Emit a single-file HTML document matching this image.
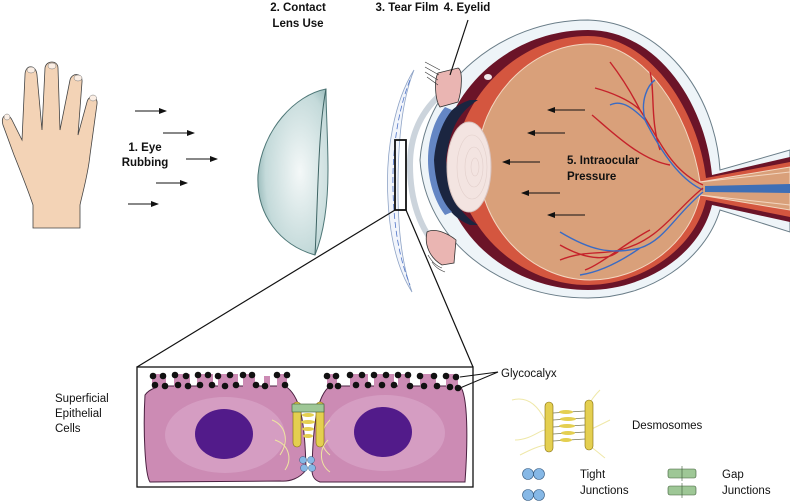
<!DOCTYPE html>
<html><head><meta charset="utf-8"><style>
html,body{margin:0;padding:0;background:#fff;width:790px;height:503px;overflow:hidden}
svg{display:block}
text{font-family:"Liberation Sans",sans-serif;fill:#111}
.b{font-weight:bold;font-size:11.5px}
.n{font-size:11.5px}
</style></head><body>
<svg width="790" height="503" viewBox="0 0 790 503" xmlns="http://www.w3.org/2000/svg">
<defs>
<marker id="ah" markerWidth="8" markerHeight="6" refX="7" refY="3" orient="auto"><path d="M0,0L8,3L0,6z" fill="#111"/></marker>
<radialGradient id="lens" cx="0.6" cy="0.5" r="0.7"><stop offset="0" stop-color="#f4f8f8"/><stop offset="0.7" stop-color="#c4dada"/><stop offset="1" stop-color="#7fa8a8"/></radialGradient>
</defs>

<!-- hand -->
<g stroke="#444" stroke-width="0.8" fill="#f3d3b6">
<path d="M33,228 L33,205 C28,190 22,175 14,155 L3,125 C0,115 8,112 12,120 L22,140 L25,75 C25,64 36,64 37,75 L42,130 L45,68 C46,60 58,60 58,68 L60,130 L70,80 C72,72 83,73 82,82 L78,135 L87,102 C89,94 98,96 97,104 L90,155 C88,175 82,195 80,205 L80,228 Z"/>
</g>
<g fill="#fbeee4" stroke="#777" stroke-width="0.5">
<ellipse cx="31" cy="70" rx="4" ry="3"/><ellipse cx="52" cy="66" rx="4" ry="3"/><ellipse cx="78" cy="78" rx="4" ry="3"/><ellipse cx="93" cy="98" rx="3.5" ry="3"/><ellipse cx="7" cy="117" rx="3" ry="3"/>
</g>

<g stroke="#111" stroke-width="1" marker-end="url(#ah)">
<line x1="135" y1="111" x2="166" y2="111"/><line x1="163" y1="133" x2="194" y2="133"/><line x1="186" y1="159" x2="217" y2="159"/><line x1="156" y1="183" x2="187" y2="183"/><line x1="128" y1="204" x2="158" y2="204"/>
</g>
<text class="b" x="145" y="151" text-anchor="middle">1. Eye</text>
<text class="b" x="145" y="166" text-anchor="middle">Rubbing</text>

<!-- contact lens -->
<path d="M326,89 C295,95 262,130 258,175 C256,215 280,245 315,255 C325,230 328,200 328,170 C328,140 326,110 326,89 Z" fill="url(#lens)" stroke="#4e7777" stroke-width="1"/>
<path d="M326,89 C318,130 318,200 315,255" fill="none" stroke="#3d6363" stroke-width="1"/>

<text class="b" x="298" y="11" text-anchor="middle">2. Contact</text>
<text class="b" x="298" y="27" text-anchor="middle">Lens Use</text>
<text class="b" x="407" y="11" text-anchor="middle">3. Tear Film</text>
<text class="b" x="467" y="11" text-anchor="middle">4. Eyelid</text>

<!-- eye -->
<path d="M790,150 L720,170 C715,90 660,22 588,20 C500,20 425,85 420,160 C425,240 500,298 588,298 C650,298 705,260 720,210 L790,232 Z" fill="#eef4f8" stroke="#6a7d88" stroke-width="1"/>
<path d="M790,157 L712,175 C705,100 655,30 588,30 C510,30 445,90 440,160 C445,235 510,290 588,290 C645,290 700,255 712,205 L790,222 Z" fill="#6b1428"/>
<path d="M790,162 L706,178 C698,110 650,36 588,36 C520,36 460,95 455,160 C460,230 520,285 588,285 C640,285 695,250 706,200 L790,217 Z" fill="#d4563f"/>
<path d="M790,167 L700,182 C690,115 645,44 590,44 C530,44 478,100 478,160 C478,225 530,280 590,280 C640,280 690,245 700,195 L790,210 Z" fill="#d9a07a" stroke="#f3d6c0" stroke-width="1"/>
<path d="M700,182 L790,172 M700,195 L790,205" stroke="#f3d6c0" stroke-width="1" fill="none"/>
<path d="M705,186 L790,184 L790,193 L705,192 Z" fill="#3e6fb6"/>
<g fill="none" stroke-width="1.4">
<path d="M703,185 C670,170 660,140 640,110 C630,90 620,75 610,62 M640,110 C630,100 610,92 595,88 M660,150 C650,120 655,90 650,72 M670,165 C640,160 610,130 592,115" stroke="#c5222a"/>
<path d="M703,190 C680,180 660,150 645,120 C630,105 620,100 610,105 M645,120 C640,100 648,85 655,80" stroke="#3a6bc4"/>
<path d="M703,188 C675,210 660,240 620,250 C600,255 585,250 560,260 M650,230 C630,240 600,265 585,270 M620,250 C610,260 590,262 560,245" stroke="#c5222a"/>
<path d="M703,192 C675,215 665,240 640,248 C610,255 590,250 560,232 M640,248 C620,262 600,272 580,275" stroke="#3a6bc4"/>
</g>
<ellipse cx="488" cy="77" rx="4" ry="3" fill="#fff" opacity="0.9"/>
<path d="M478,100 C462,110 450,125 446,160 C450,200 462,215 478,225 L470,225 C445,215 435,190 432,160 C435,130 445,108 470,100 Z" fill="#1b2540"/>
<path d="M452,110 C440,125 435,145 434,160 C435,180 440,200 452,212 L445,215 C434,200 428,180 428,160 C428,140 434,120 445,107 Z" fill="#6486c4"/>
<ellipse cx="469" cy="167" rx="22" ry="45" fill="#f3e4e1" stroke="#d9c3bf" stroke-width="1"/>
<g fill="none" stroke="#e2cfcb" stroke-width="0.6"><ellipse cx="472" cy="167" rx="15" ry="32"/><ellipse cx="474" cy="167" rx="9" ry="20"/><ellipse cx="475" cy="167" rx="4" ry="9"/></g>
<path d="M440,95 C418,115 410,140 410,165 C410,200 420,230 440,250" fill="none" stroke="#aab8c5" stroke-width="6" opacity="0.6"/>
<path d="M438,73 L458,68 C463,70 462,90 458,102 L440,107 C435,100 434,80 438,73 Z" fill="#eab5b2" stroke="#333" stroke-width="0.8"/>
<path d="M427,232 C436,227 450,235 456,240 L454,263 L442,265 C430,258 424,245 427,232 Z" fill="#eab5b2" stroke="#333" stroke-width="0.8"/>
<g stroke="#333" stroke-width="0.6" fill="none"><path d="M425,62 L440,70 M425,67 L439,75 M425,72 L438,80 M427,77 L438,85"/><path d="M432,262 C436,268 440,270 445,272 M428,255 C432,262 436,266 442,268"/></g>
<path d="M414,70 C395,100 385,150 388,200 C390,240 398,270 412,292 C402,265 398,230 398,190 C398,140 402,100 414,70 Z" fill="#f2f5fb" stroke="#8ea3c6" stroke-width="0.8"/>
<path d="M410,80 C398,110 392,150 393,190 C394,230 400,260 410,285" fill="none" stroke="#4f74c8" stroke-width="0.8" stroke-dasharray="6,3"/>
<g stroke="#111" stroke-width="1" marker-end="url(#ah)">
<line x1="585" y1="110" x2="548" y2="110"/><line x1="565" y1="133" x2="528" y2="133"/><line x1="540" y1="162" x2="503" y2="162"/><line x1="560" y1="193" x2="522" y2="193"/><line x1="585" y1="215" x2="548" y2="215"/>
</g>
<text class="b" x="567" y="164">5. Intraocular</text>
<text class="b" x="567" y="180">Pressure</text>

<line x1="468" y1="20" x2="450" y2="75" stroke="#111" stroke-width="1.2"/>
<rect x="395" y="140" width="11" height="70" fill="none" stroke="#111" stroke-width="1.8"/>
<line x1="395" y1="210" x2="137" y2="367" stroke="#111" stroke-width="1.2"/>
<line x1="406" y1="210" x2="473" y2="367" stroke="#111" stroke-width="1.2"/>

<!-- box -->
<rect x="137" y="367" width="336" height="120" fill="#fff" stroke="#111" stroke-width="1.3"/>
<path d="M145,395 C150,388 160,386 165,386 L285,386 C300,395 305,420 306,470 C300,478 290,482 280,481 L150,482 C145,475 143,430 145,395 Z" fill="#cc8bb4" stroke="#4a2040" stroke-width="1"/>
<path d="M312,470 C313,420 318,395 330,386 L460,386 C468,395 468,440 465,482 L320,482 C314,480 312,476 312,470 Z" fill="#cc8bb4" stroke="#4a2040" stroke-width="1"/>
<g fill="#d9a5c8" opacity="0.7"><ellipse cx="225" cy="435" rx="60" ry="38"/><ellipse cx="385" cy="433" rx="60" ry="38"/></g>
<g fill="#cc8bb4">
<rect x="152" y="374" width="14" height="14"/><rect x="174" y="374" width="16" height="14"/><rect x="197" y="374" width="16" height="14"/><rect x="218" y="374" width="20" height="14"/><rect x="243" y="374" width="12" height="14"/><rect x="264" y="376" width="6" height="12"/><rect x="277" y="374" width="10" height="14"/>
<rect x="327" y="374" width="10" height="14"/><rect x="350" y="374" width="18" height="14"/><rect x="374" y="374" width="20" height="14"/><rect x="398" y="374" width="12" height="14"/><rect x="420" y="374" width="16" height="14"/><rect x="446" y="374" width="12" height="14"/>
</g>
<ellipse cx="224" cy="434" rx="29" ry="25" fill="#521b8a"/>
<ellipse cx="383" cy="432" rx="29" ry="25" fill="#521b8a"/>
<g fill="#111">
<circle cx="153" cy="376" r="3.3"/><circle cx="155" cy="385" r="3.3"/><circle cx="163" cy="376" r="3.3"/><circle cx="165" cy="386" r="3.3"/>
<circle cx="175" cy="375" r="3.3"/><circle cx="178" cy="385" r="3.3"/><circle cx="186" cy="376" r="3.3"/><circle cx="188" cy="386" r="3.3"/>
<circle cx="198" cy="375" r="3.3"/><circle cx="200" cy="385" r="3.3"/><circle cx="208" cy="375" r="3.3"/><circle cx="212" cy="385" r="3.3"/>
<circle cx="218" cy="376" r="3.3"/><circle cx="225" cy="386" r="3.3"/><circle cx="230" cy="375" r="3.3"/><circle cx="236" cy="385" r="3.3"/>
<circle cx="243" cy="375" r="3.3"/><circle cx="252" cy="375" r="3.3"/><circle cx="256" cy="385" r="3.3"/><circle cx="265" cy="386" r="3.3"/>
<circle cx="277" cy="375" r="3.3"/><circle cx="287" cy="375" r="3.3"/><circle cx="285" cy="385" r="3.3"/>
<circle cx="327" cy="376" r="3.3"/><circle cx="336" cy="376" r="3.3"/><circle cx="330" cy="386" r="3.3"/><circle cx="338" cy="386" r="3.3"/>
<circle cx="350" cy="375" r="3.3"/><circle cx="356" cy="385" r="3.3"/><circle cx="362" cy="375" r="3.3"/><circle cx="368" cy="385" r="3.3"/>
<circle cx="374" cy="375" r="3.3"/><circle cx="382" cy="385" r="3.3"/><circle cx="386" cy="375" r="3.3"/><circle cx="394" cy="385" r="3.3"/>
<circle cx="398" cy="375" r="3.3"/><circle cx="408" cy="375" r="3.3"/><circle cx="410" cy="386" r="3.3"/><circle cx="420" cy="376" r="3.3"/>
<circle cx="424" cy="386" r="3.3"/><circle cx="434" cy="376" r="3.3"/><circle cx="437" cy="386" r="3.3"/><circle cx="446" cy="376" r="3.3"/>
<circle cx="450" cy="387" r="3.3"/><circle cx="456" cy="377" r="3.3"/><circle cx="458" cy="388" r="3.3"/>
</g>
<g fill="none" stroke="#efe6a0" stroke-width="1"><path d="M272,420 C285,425 290,440 280,455 M275,440 C290,445 292,460 285,470 M330,420 C320,430 318,445 330,455 M328,440 C318,450 320,465 330,472"/></g>
<rect x="293" y="402" width="8" height="45" rx="4" fill="#e4cf50" stroke="#806a10" stroke-width="0.6"/>
<rect x="316" y="402" width="8" height="45" rx="4" fill="#e4cf50" stroke="#806a10" stroke-width="0.6"/>
<g fill="#e4cf50"><ellipse cx="308" cy="415" rx="6" ry="2"/><ellipse cx="308" cy="422" rx="7" ry="2"/><ellipse cx="308" cy="429" rx="6" ry="2"/><ellipse cx="308" cy="436" rx="5" ry="2"/></g>
<rect x="292" y="404" width="32" height="8" fill="#9ec796" stroke="#3d5b37" stroke-width="0.6"/>
<g fill="#86b8e6" stroke="#34597f" stroke-width="0.5"><circle cx="303" cy="460" r="3.5"/><circle cx="311" cy="460" r="3.5"/><circle cx="304" cy="468" r="3.5"/><circle cx="312" cy="468" r="3.5"/></g>

<line x1="460" y1="377" x2="498" y2="372" stroke="#111" stroke-width="1"/>
<line x1="460" y1="388" x2="498" y2="372" stroke="#111" stroke-width="1"/>
<text class="n" x="501" y="377">Glycocalyx</text>

<text class="n" x="55" y="402">Superficial</text>
<text class="n" x="55" y="417">Epithelial</text>
<text class="n" x="55" y="432">Cells</text>

<g fill="none" stroke="#efe8a8" stroke-width="1"><path d="M512,400 C530,395 540,410 545,420 M515,440 C530,440 540,430 545,430 M520,455 C530,450 540,445 548,445 M600,390 C590,400 585,410 585,420 M610,420 C600,425 590,430 585,432 M605,458 C595,450 590,445 585,445"/></g>
<rect x="545" y="402" width="8" height="50" rx="4" fill="#e4cf50" stroke="#806a10" stroke-width="0.6"/>
<rect x="585" y="400" width="8" height="50" rx="4" fill="#e4cf50" stroke="#806a10" stroke-width="0.6"/>
<g stroke="#7a7a58" stroke-width="0.8"><line x1="553" y1="413" x2="585" y2="411"/><line x1="553" y1="420" x2="585" y2="418"/><line x1="553" y1="427" x2="585" y2="425"/><line x1="553" y1="434" x2="585" y2="432"/><line x1="553" y1="441" x2="585" y2="439"/></g>
<g fill="#e4cf50"><ellipse cx="566" cy="412" rx="7" ry="2"/><ellipse cx="568" cy="419" rx="8" ry="2"/><ellipse cx="567" cy="426" rx="8" ry="2"/><ellipse cx="568" cy="433" rx="7" ry="2"/><ellipse cx="566" cy="440" rx="6" ry="2"/></g>
<text class="n" x="632" y="429">Desmosomes</text>

<g fill="#86b8e6" stroke="#34597f" stroke-width="0.6"><circle cx="528" cy="474" r="5.5"/><circle cx="539" cy="474" r="5.5"/><circle cx="528" cy="495" r="5.5"/><circle cx="539" cy="495" r="5.5"/></g>
<text class="n" x="580" y="478">Tight</text>
<text class="n" x="580" y="494">Junctions</text>

<g fill="#9ec796" stroke="#3d5b37" stroke-width="0.6"><rect x="668" y="469" width="28" height="9" rx="2"/><rect x="668" y="486" width="28" height="9" rx="2"/><line x1="682" y1="466" x2="682" y2="481"/><line x1="682" y1="483" x2="682" y2="498"/></g>
<text class="n" x="722" y="478">Gap</text>
<text class="n" x="722" y="494">Junctions</text>
</svg>
</body></html>
